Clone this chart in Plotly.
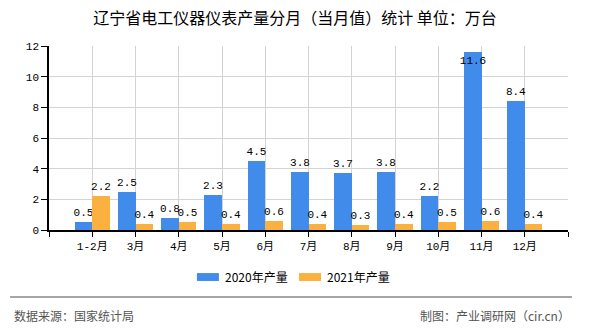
import plotly.graph_objects as go

# Monthly output (10k units)
months = ["1-2月", "3月", "4月", "5月", "6月", "7月", "8月", "9月", "10月", "11月", "12月"]
output_2020 = [0.5, 2.5, 0.8, 2.3, 4.5, 3.8, 3.7, 3.8, 2.2, 11.6, 8.4]
output_2021 = [2.2, 0.4, 0.5, 0.4, 0.6, 0.4, 0.3, 0.4, 0.5, 0.6, 0.4]
y_ticks = [0, 2, 4, 6, 8, 10, 12]
series_names = ["2020年产量", "2021年产量"]

title = "辽宁省电工仪器仪表产量分月（当月值）统计 单位：万台"
source = "数据来源：国家统计局"
credit = "制图：产业调研网（cir.cn）"

BLUE = "#418BEB"
ORANGE = "#FBB140"
MONO = "Liberation Mono, Noto Sans CJK SC, monospace"
CJK = "Noto Sans CJK SC, sans-serif"

idx = list(range(len(months)))
y_max = y_ticks[-1]


def label_pos(values):
    # labels sit above the bars unless they would leave the plot area
    return ["inside" if v > y_max - 0.8 else "outside" for v in values]


fig = go.Figure()
for values, color, offset, name in [
    (output_2020, BLUE, -0.41, series_names[0]),
    (output_2021, ORANGE, 0.0, series_names[1]),
]:
    fig.add_trace(go.Bar(
        x=idx, y=values, name=name, showlegend=False,
        marker=dict(color=color, line=dict(width=0)),
        width=0.41, offset=offset,
        text=[f"{v:.1f}" for v in values],
        textposition=label_pos(values),
        insidetextanchor="end",
        textangle=0, constraintext="none",
        textfont=dict(family=MONO, size=11, color="#000"),
        insidetextfont=dict(family=MONO, size=11, color="#000"),
        outsidetextfont=dict(family=MONO, size=11, color="#000"),
        cliponaxis=False,
    ))

fig.update_layout(
    width=590, height=330,
    margin=dict(l=49, r=22, t=46, b=100),
    paper_bgcolor="white", plot_bgcolor="white",
    font=dict(family=CJK, size=12, color="#000"),
    title=dict(text=title, x=0.5, xanchor="center", y=0.945, yanchor="middle",
               font=dict(family=CJK, size=16, color="#000")),
    showlegend=False,
    bargap=0, barmode="overlay",
)

fig.update_xaxes(
    range=[-1, len(months)],
    tickvals=list(range(-1, len(months) + 1)),
    ticktext=[""] + months + [""],
    showgrid=True, gridcolor="#d3d3d3", gridwidth=1,
    showline=True, linecolor="#000", linewidth=1.5,
    ticks="outside", ticklen=5, tickcolor="#000",
    tickfont=dict(family=MONO, size=11, color="#000"),
    zeroline=False,
)
fig.update_yaxes(
    range=[0, y_max],
    tickvals=y_ticks,
    showgrid=True, gridcolor="#d3d3d3", gridwidth=1,
    showline=True, linecolor="#000", linewidth=1.5,
    ticks="outside", ticklen=6, tickcolor="#000",
    tickfont=dict(family=MONO, size=11, color="#000"),
    zeroline=False,
)

# legend: wide swatches with labels under the plot
legend_items = [(series_names[0], BLUE, 0.285), (series_names[1], ORANGE, 0.4817)]
for name, color, x0 in legend_items:
    fig.add_shape(type="rect", xref="paper", yref="paper",
                  x0=x0, x1=x0 + 0.0424, y0=-0.277, y1=-0.234,
                  fillcolor=color, line=dict(width=0))
    fig.add_annotation(text=name, xref="paper", yref="paper", x=x0 + 0.0503, y=-0.255,
                       xanchor="left", yanchor="middle", showarrow=False,
                       font=dict(family=CJK, size=12, color="#000"))

# separator and footer
fig.add_shape(type="line", xref="paper", yref="paper",
              x0=-0.075, x1=1.0077, y0=-0.364, y1=-0.364,
              line=dict(color="#888", width=1.5))
fig.add_annotation(text=source, xref="paper", yref="paper", x=-0.0713, y=-0.462,
                   xanchor="left", yanchor="middle", showarrow=False,
                   font=dict(family=CJK, size=12, color="#555"))
fig.add_annotation(text=credit, xref="paper", yref="paper", x=1.0077, y=-0.462,
                   xanchor="right", yanchor="middle", showarrow=False,
                   font=dict(family=CJK, size=12, color="#555"))

fig.write_html("out.html")
